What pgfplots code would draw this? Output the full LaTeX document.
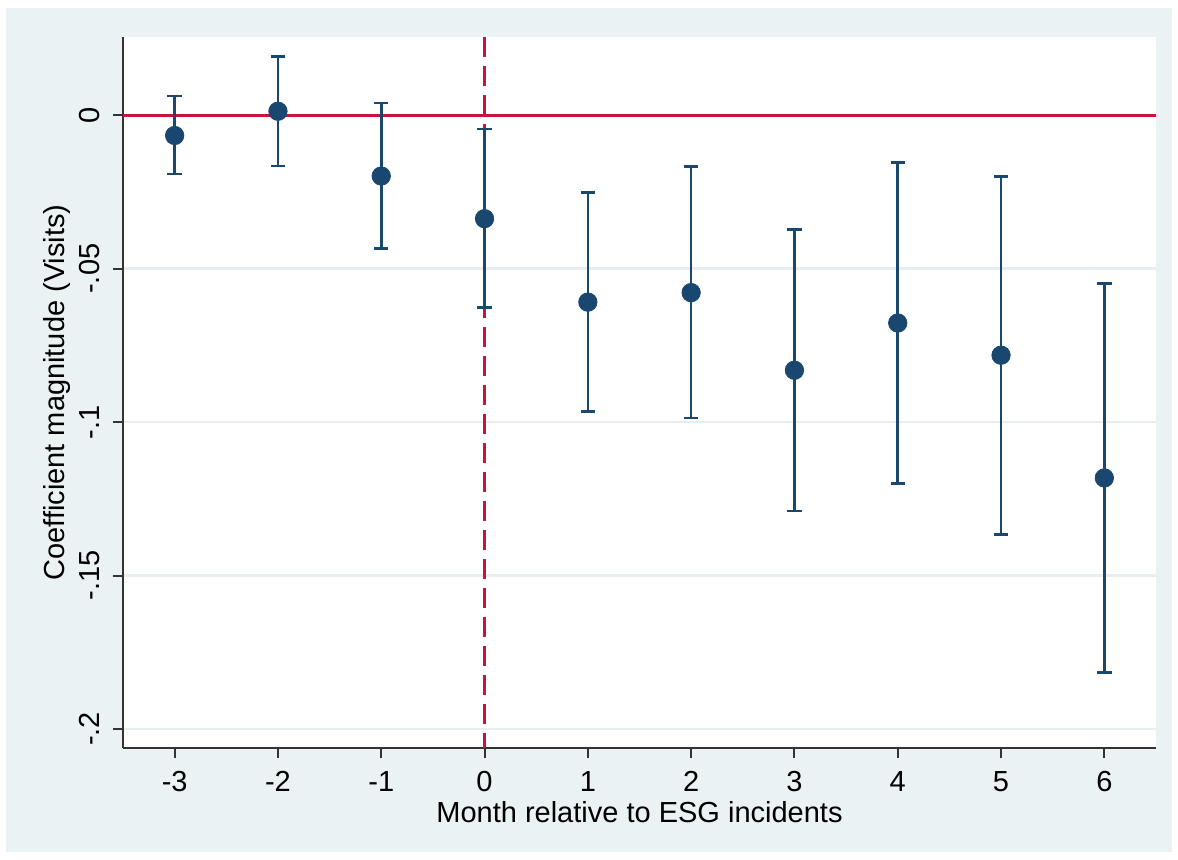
\documentclass[border=0pt]{standalone}
\usepackage{pgfplots}
\pgfplotsset{compat=1.18}
\usepackage{pgfplotstable}
\usepackage{fontspec}
\setmainfont{Liberation Sans}
\definecolor{bgc}{HTML}{EAF2F3}
\definecolor{navy}{HTML}{1A476F}
\definecolor{cran}{HTML}{C8143C}
\definecolor{gridc}{HTML}{E6EEF0}

\pgfplotstableread{
x y ep em
-3 -0.0066 0.0129 0.0126
-2 0.0013 0.0179 0.0179
-1 -0.0198 0.0238 0.0236
0 -0.0337 0.0292 0.0290
1 -0.0609 0.0358 0.0357
2 -0.0578 0.0411 0.0409
3 -0.0831 0.0459 0.0459
4 -0.0677 0.0523 0.0524
5 -0.0782 0.0583 0.0584
6 -0.1182 0.0634 0.0633
}\coefs

\begin{document}
\begin{tikzpicture}[font=\fontsize{14.5}{17}\selectfont]
\path[use as bounding box, fill=white] (-61.5pt,-55.5pt) rectangle (527.5pt,374pt);
\fill[bgc] (-58.5pt,-52pt) rectangle (524.5pt,370pt);
\begin{axis}[
  at={(0pt,0pt)}, anchor=south west,
  width=516.5pt, height=355.5pt, scale only axis,
  xmin=-3.5, xmax=6.5, ymin=-0.2062, ymax=0.0255,
  axis background/.style={fill=white},
  axis x line*=bottom, axis y line*=left,
  axis line style={line width=1pt, black!80, -},
  tick align=outside, major tick length=5pt,
  tick style={line width=1pt, black!80},
  xtick={-3,-2,-1,0,1,2,3,4,5,6},
  xticklabels={-3,-2,-1,0,1,2,3,4,5,6},
  xticklabel style={yshift=-3pt},
  ytick={-0.2,-0.15,-0.1,-0.05,0},
  yticklabels={-.2,-.15,-.1,-.05,0},
  yticklabel style={rotate=90, anchor=south, yshift=3pt},
  ymajorgrids, major grid style={gridc, line width=1.2pt},
  xlabel={Month relative to ESG incidents},
  ylabel={Coefficient magnitude (Visits)},
  xlabel style={at={(axis description cs:0.5,0)}, anchor=center, yshift=-32pt},
  ylabel style={at={(axis description cs:0,0.5)}, anchor=center, yshift=33pt},
  clip=false,
]
\addplot[cran, line width=1.4pt, forget plot] coordinates {(-3.5,0) (6.5,0)};
\addplot[cran, line width=1.3pt, dash pattern=on 10pt off 4.5pt, forget plot] coordinates {(0,0.0255) (0,-0.2062)};
\addplot[only marks, mark=*, mark size=4.6pt, mark options={fill=navy, draw=navy},
  error bars/.cd, y dir=both, y explicit,
  error bar style={line width=1.3pt, navy},
  error mark options={rotate=90, mark size=3.6pt, line width=1.3pt, navy}]
  table[x=x, y=y, y error plus=ep, y error minus=em] {\coefs};
\end{axis}
\end{tikzpicture}
\end{document}
